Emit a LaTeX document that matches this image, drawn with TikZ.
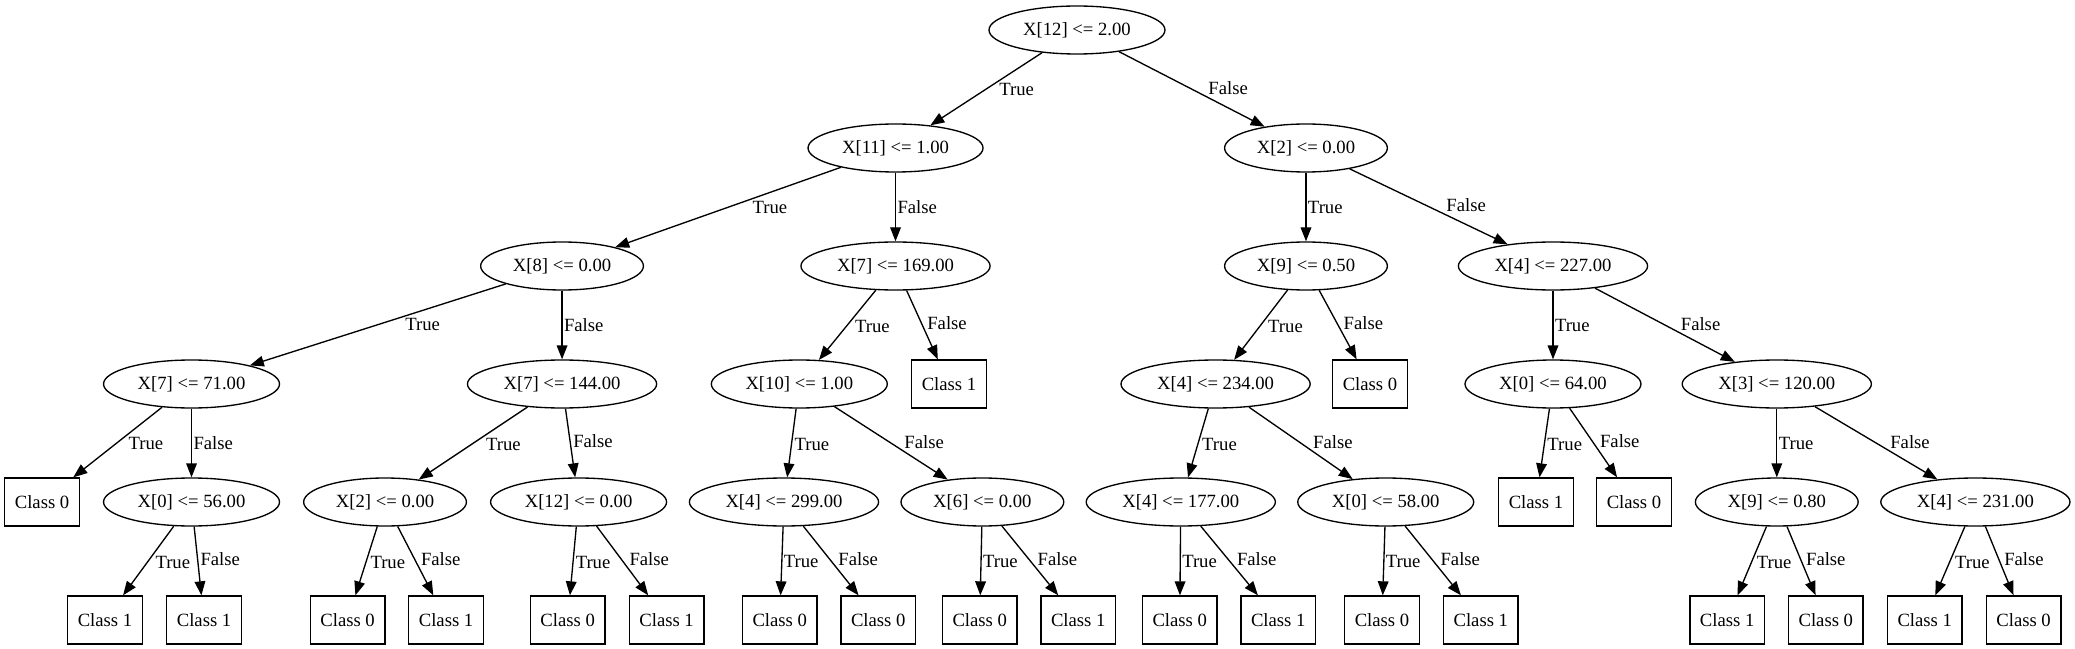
\documentclass[tikz,border=0pt]{standalone}
\usepackage{fontspec}
\setmainfont{Liberation Serif}
\usetikzlibrary{positioning,arrows.meta,shapes.geometric}

\begin{document}
\begin{tikzpicture}[>={Triangle[length=10.5pt,width=8pt]},line width=1pt,on grid,font=\fontsize{14}{16}\selectfont,
    split node/.style={ellipse,draw,minimum height=36pt,inner xsep=6.3pt},
    leaf node/.style={rectangle,draw,minimum width=56pt,minimum height=36pt},
    left lab/.style={anchor=north west,pos=0.4,inner sep=1pt},
    right lab/.style={anchor=south west,pos=0.6,inner sep=1pt},
    down lab/.style={anchor=west,pos=0.5,inner sep=1pt}]

            \useasboundingbox (-807.75pt,-464.25pt) rectangle (748.5pt,22.5pt);

            \node[split node] (1) {X[12] <= 2.00};
            \node[split node] (2) [below left=88.5pt and 136.1pt of 1] {X[11] <= 1.00};
            \node[split node] (3) [below right=88.5pt and 171.75pt of 1] {X[2] <= 0.00};
            \node[split node] (4) [below left=88.5pt and 250.1pt of 2] {X[8] <= 0.00};
            \node[split node] (5) [below=88.5pt of 2] {X[7] <= 169.00};
            \node[split node] (6) [below=88.5pt of 3] {X[9] <= 0.50};
            \node[split node] (7) [below right=88.5pt and 185.25pt of 3] {X[4] <= 227.00};
            \node[split node] (8) [below left=88.5pt and 277.9pt of 4] {X[7] <= 71.00};
            \node[split node] (9) [below=88.5pt of 4] {X[7] <= 144.00};
            \node[split node] (10) [below left=88.5pt and 72.15pt of 5] {X[10] <= 1.00};
            \node[leaf node] (11) [below right=88.5pt and 40.1pt of 5] {Class 1};
            \node[split node] (12) [below left=88.5pt and 67.8pt of 6] {X[4] <= 234.00};
            \node[leaf node] (13) [below right=88.5pt and 48pt of 6] {Class 0};
            \node[split node] (14) [below=88.5pt of 7] {X[0] <= 64.00};
            \node[split node] (15) [below right=88.5pt and 167.85pt of 7] {X[3] <= 120.00};
            \node[leaf node] (16) [below left=88.5pt and 112.1pt of 8] {Class 0};
            \node[split node] (17) [below=88.5pt of 8] {X[0] <= 56.00};
            \node[split node] (18) [below left=88.5pt and 132.75pt of 9] {X[2] <= 0.00};
            \node[split node] (19) [below right=88.5pt and 12.4pt of 9] {X[12] <= 0.00};
            \node[split node] (20) [below left=88.5pt and 11.5pt of 10] {X[4] <= 299.00};
            \node[split node] (21) [below right=88.5pt and 137.3pt of 10] {X[6] <= 0.00};
            \node[split node] (22) [below left=88.5pt and 26.1pt of 12] {X[4] <= 177.00};
            \node[split node] (23) [below right=88.5pt and 127.6pt of 12] {X[0] <= 58.00};
            \node[leaf node] (24) [below left=88.5pt and 12.75pt of 14] {Class 1};
            \node[leaf node] (25) [below right=88.5pt and 60.75pt of 14] {Class 0};
            \node[split node] (26) [below=88.5pt of 15] {X[9] <= 0.80};
            \node[split node] (27) [below right=88.5pt and 148.95pt of 15] {X[4] <= 231.00};
            \node[leaf node] (28) [below left=88.5pt and 64.9pt of 17] {Class 1};
            \node[leaf node] (29) [below right=88.5pt and 9.4pt of 17] {Class 1};
            \node[leaf node] (30) [below left=88.5pt and 28.1pt of 18] {Class 0};
            \node[leaf node] (31) [below right=88.5pt and 45.75pt of 18] {Class 1};
            \node[leaf node] (32) [below left=88.5pt and 8.2pt of 19] {Class 0};
            \node[leaf node] (33) [below right=88.5pt and 66pt of 19] {Class 1};
            \node[leaf node] (34) [below left=88.5pt and 3.2pt of 20] {Class 0};
            \node[leaf node] (35) [below right=88.5pt and 70.7pt of 20] {Class 0};
            \node[leaf node] (36) [below left=88.5pt and 2pt of 21] {Class 0};
            \node[leaf node] (37) [below right=88.5pt and 71.9pt of 21] {Class 1};
            \node[leaf node] (38) [below left=88.5pt and 0.8pt of 22] {Class 0};
            \node[leaf node] (39) [below right=88.5pt and 73.1pt of 22] {Class 1};
            \node[leaf node] (40) [below left=88.5pt and 2.8pt of 23] {Class 0};
            \node[leaf node] (41) [below right=88.5pt and 71.3pt of 23] {Class 1};
            \node[leaf node] (42) [below left=88.5pt and 37.2pt of 26] {Class 1};
            \node[leaf node] (43) [below right=88.5pt and 36.75pt of 26] {Class 0};
            \node[leaf node] (44) [below left=88.5pt and 38pt of 27] {Class 1};
            \node[leaf node] (45) [below right=88.5pt and 36.15pt of 27] {Class 0};

            \draw[->] (1) to node[left lab] {True} (2);
            \draw[->] (1) to node[right lab] {False} (3);
            \draw[->] (2) to node[left lab] {True} (4);
            \draw[->] (2) to node[down lab] {False} (5);
            \draw[->] (3) to node[down lab] {True} (6);
            \draw[->] (3) to node[right lab] {False} (7);
            \draw[->] (4) to node[left lab] {True} (8);
            \draw[->] (4) to node[down lab] {False} (9);
            \draw[->] (5) to node[left lab] {True} (10);
            \draw[->] (5) to node[right lab] {False} (11);
            \draw[->] (6) to node[left lab] {True} (12);
            \draw[->] (6) to node[right lab] {False} (13);
            \draw[->] (7) to node[down lab] {True} (14);
            \draw[->] (7) to node[right lab] {False} (15);
            \draw[->] (8) to node[left lab] {True} (16);
            \draw[->] (8) to node[down lab] {False} (17);
            \draw[->] (9) to node[left lab] {True} (18);
            \draw[->] (9) to node[right lab] {False} (19);
            \draw[->] (10) to node[left lab] {True} (20);
            \draw[->] (10) to node[right lab] {False} (21);
            \draw[->] (12) to node[left lab] {True} (22);
            \draw[->] (12) to node[right lab] {False} (23);
            \draw[->] (14) to node[left lab] {True} (24);
            \draw[->] (14) to node[right lab] {False} (25);
            \draw[->] (15) to node[down lab] {True} (26);
            \draw[->] (15) to node[right lab] {False} (27);

            \draw[->] (17) to node[left lab] {True} (28);
            \draw[->] (17) to node[right lab] {False} (29);
            \draw[->] (18) to node[left lab] {True} (30);
            \draw[->] (18) to node[right lab] {False} (31);
            \draw[->] (19) to node[left lab] {True} (32);
            \draw[->] (19) to node[right lab] {False} (33);
            \draw[->] (20) to node[down lab] {True} (34);
            \draw[->] (20) to node[right lab] {False} (35);
            \draw[->] (21) to node[down lab] {True} (36);
            \draw[->] (21) to node[right lab] {False} (37);
            \draw[->] (22) to node[down lab] {True} (38);
            \draw[->] (22) to node[right lab] {False} (39);
            \draw[->] (23) to node[down lab] {True} (40);
            \draw[->] (23) to node[right lab] {False} (41);
            \draw[->] (26) to node[left lab] {True} (42);
            \draw[->] (26) to node[right lab] {False} (43);
            \draw[->] (27) to node[left lab] {True} (44);
            \draw[->] (27) to node[right lab] {False} (45);

        \end{tikzpicture}
\end{document}
